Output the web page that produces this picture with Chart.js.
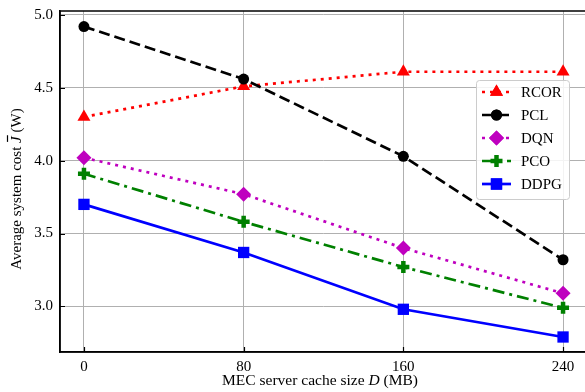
<!DOCTYPE html>
<html>
<head>
<meta charset="utf-8">
<script src="https://cdn.jsdelivr.net/npm/chart.js@4"></script>
<style>
  html, body { margin: 0; padding: 0; overflow: hidden; background: #fff; }
  #wrap { width: 590px; height: 392px; }
</style>
</head>
<body>
<div id="wrap"><canvas id="chart" width="590" height="392"></canvas></div>
<script>
// cache sizes (MB) on the x axis
const cacheSizes = [0, 80, 160, 240];
const seriesNames = ["RCOR", "PCL", "DQN", "PCO", "DDPG"];

// average system cost values
const rcorCost = [4.30, 4.51, 4.61, 4.61];
const pclCost = [4.92, 4.56, 4.03, 3.32];
const dqnCost = [4.02, 3.77, 3.40, 3.09];
const pcoCost = [3.91, 3.58, 3.27, 2.99];
const ddpgCost = [3.70, 3.37, 2.98, 2.79];

const xTicks = [0, 80, 160, 240];
const yTicks = [3.0, 3.5, 4.0, 4.5, 5.0];

const FONT = "'Liberation Serif', 'Times New Roman', serif";

const styles = [
    { color: "#ff0000", dash: [3, 5], point: "triangle", radius: 7.5, bw: 0 },
    { color: "#000000", dash: [11, 5], point: "circle", radius: 5.5, bw: 0 },
    { color: "#bf00bf", dash: [3, 5], point: "rectRot", radius: 7.5, bw: 0 },
    { color: "#008000", dash: [12, 5, 3, 5], point: "cross", radius: 6, bw: 4.5 },
    { color: "#0000ff", dash: [], point: "rect", radius: 8, bw: 0 },
];

const allCosts = [rcorCost, pclCost, dqnCost, pcoCost, ddpgCost];

const datasets = seriesNames.map((name, i) => ({
    label: name,
    data: cacheSizes.map((x, j) => ({ x: x, y: allCosts[i][j] })),
    borderColor: styles[i].color,
    backgroundColor: styles[i].color,
    borderWidth: 2.7,
    borderDash: styles[i].dash,
    pointStyle: styles[i].point,
    pointRadius: styles[i].radius,
    pointHoverRadius: styles[i].radius,
    pointBorderWidth: styles[i].bw,
    pointBorderColor: styles[i].color,
    pointBackgroundColor: styles[i].color,
    order: seriesNames.length - i,
    tension: 0,
}));

// frame on top/right, inward tick marks, axis titles and the legend box
const decorations = {
    id: "decorations",
    afterDatasetsDraw(chart) {
        const ctx = chart.ctx;
        const a = chart.chartArea;
        const xs = chart.scales.x, ys = chart.scales.y;
        ctx.save();
        ctx.strokeStyle = "#000";
        ctx.lineWidth = 1.5;
        ctx.strokeRect(a.left, a.top, a.right - a.left, a.bottom - a.top);

        // inward ticks
        ctx.lineWidth = 1.2;
        ctx.beginPath();
        xTicks.forEach(v => {
            const px = Math.round(xs.getPixelForValue(v)) + 0.5;
            ctx.moveTo(px, a.bottom);
            ctx.lineTo(px, a.bottom - 5);
        });
        yTicks.forEach(v => {
            const py = Math.round(ys.getPixelForValue(v)) + 0.5;
            ctx.moveTo(a.left, py);
            ctx.lineTo(a.left + 5, py);
        });
        ctx.stroke();

        // x axis title
        ctx.fillStyle = "#000";
        ctx.textBaseline = "middle";
        const xParts = [["MEC server cache size ", ""], ["D", "italic "], [" (MB)", ""]];
        let total = 0;
        xParts.forEach(p => { ctx.font = p[1] + "15.5px " + FONT; total += ctx.measureText(p[0]).width; });
        let cx = 320 - total / 2;
        xParts.forEach(p => {
            ctx.font = p[1] + "15.5px " + FONT;
            ctx.textAlign = "left";
            ctx.fillText(p[0], cx, 381);
            cx += ctx.measureText(p[0]).width;
        });

        // y axis title, rotated
        ctx.save();
        ctx.translate(17, 189);
        ctx.rotate(-Math.PI / 2);
        const yParts = [["Average system cost ", ""], ["J", "italic "], [" (W)", ""]];
        total = 0;
        yParts.forEach(p => { ctx.font = p[1] + "15px " + FONT; total += ctx.measureText(p[0]).width; });
        let cy = -total / 2;
        yParts.forEach(p => {
            ctx.font = p[1] + "15px " + FONT;
            ctx.textAlign = "left";
            ctx.fillText(p[0], cy, 0);
            const w = ctx.measureText(p[0]).width;
            if (p[0] === "J") {
                ctx.lineWidth = 1.2;
                ctx.beginPath();
                ctx.moveTo(cy + 1, -9.5);
                ctx.lineTo(cy + w + 1, -9.5);
                ctx.stroke();
            }
            cy += w;
        });
        ctx.restore();

        // legend
        const lx = 476, ly = 80, lw = 93, lh = 119;
        ctx.fillStyle = "rgba(255,255,255,0.85)";
        ctx.strokeStyle = "#cccccc";
        ctx.lineWidth = 1;
        ctx.beginPath();
        ctx.roundRect(lx + 0.5, ly + 0.5, lw, lh, 3);
        ctx.fill();
        ctx.stroke();
        seriesNames.forEach((name, i) => {
            const y = ly + 12 + i * 23;
            const s = styles[i];
            ctx.strokeStyle = s.color;
            ctx.lineWidth = 2.7;
            ctx.setLineDash(s.dash);
            ctx.beginPath();
            ctx.moveTo(482, y);
            ctx.lineTo(511, y);
            ctx.stroke();
            ctx.setLineDash([]);
            ctx.fillStyle = s.color;
            ctx.lineWidth = s.bw;
            Chart.helpers.drawPoint(ctx, {
                pointStyle: s.point,
                radius: s.radius,
                borderWidth: s.bw,
                rotation: 0,
            }, 496.5, y);
            if (s.bw === 0) ctx.fill();
            ctx.fillStyle = "#000";
            ctx.font = "15px " + FONT;
            ctx.textAlign = "left";
            ctx.fillText(name, 521, y + 1);
        });
        ctx.restore();
    }
};

new Chart(document.getElementById("chart"), {
    type: "line",
    data: { datasets: datasets },
    options: {
        responsive: false,
        animation: false,
        layout: { autoPadding: false, padding: { top: 11, right: 3, left: 0, bottom: 0 } },
        plugins: { legend: { display: false }, tooltip: { enabled: false } },
        scales: {
            x: {
                type: "linear",
                min: -12,
                max: 252,
                afterFit: (s) => { s.height = 40; s.paddingLeft = 0; s.paddingRight = 0; },
                afterBuildTicks: (s) => { s.ticks = xTicks.map(v => ({ value: v })); },
                grid: { color: "#b0b0b0", lineWidth: 1, drawTicks: false },
                border: { color: "#000", width: 1.5 },
                ticks: {
                    padding: 6,
                    color: "#000",
                    font: { family: FONT, size: 15 },
                    callback: (v) => String(v),
                },
            },
            y: {
                type: "linear",
                min: 2.687,
                max: 5.027,
                afterFit: (s) => { s.width = 60; s.paddingTop = 0; s.paddingBottom = 0; },
                afterBuildTicks: (s) => { s.ticks = yTicks.map(v => ({ value: v })); },
                grid: { color: "#b0b0b0", lineWidth: 1, drawTicks: false },
                border: { color: "#000", width: 1.5 },
                ticks: {
                    padding: 7,
                    color: "#000",
                    font: { family: FONT, size: 15 },
                    callback: (v) => Number(v).toFixed(1),
                },
            },
        },
    },
    plugins: [decorations],
});
</script>
</body>
</html>
